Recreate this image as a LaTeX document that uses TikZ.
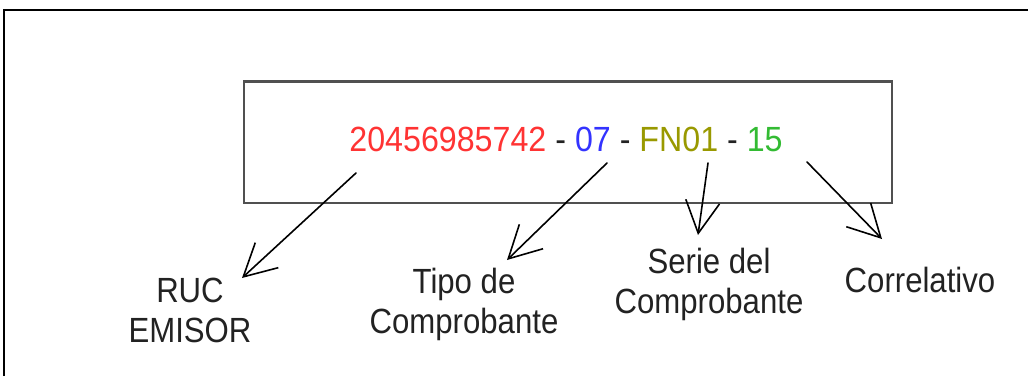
\documentclass[tikz,border=0pt]{standalone}
\usepackage{fontspec}
\setmainfont{Liberation Sans}
\newfontfamily\lblfont[FakeStretch=0.89]{Liberation Sans}
\newfontfamily\codefont[FakeStretch=0.92]{Liberation Sans}
\usetikzlibrary{arrows.meta}
\definecolor{rucred}{HTML}{FF3333}
\definecolor{tipoblue}{HTML}{3333FF}
\definecolor{serieolive}{HTML}{999900}
\definecolor{corrgreen}{HTML}{33BB33}
\definecolor{boxgray}{HTML}{505050}
\definecolor{txtdark}{HTML}{222222}
\tikzset{
  frameline/.style={line width=1.8pt, black},
  codebox/.style={draw=boxgray, line width=2.6pt},
  codetext/.style={font=\codefont\fontsize{35}{40}\selectfont, inner sep=0pt, anchor=base},
  lbl/.style={font=\lblfont\fontsize{35}{40}\selectfont, text=txtdark, inner sep=0pt, anchor=north, align=center},
  pointer/.style={line width=1.6pt, black, line cap=round, line join=round,
    -{Straight Barb[length=32pt,width=34pt,line width=1.6pt]}}
}
\begin{document}
\begin{tikzpicture}[x=1pt,y=-1pt]
\useasboundingbox (0,0) rectangle (1028,376);
% outer frame (partial)
\draw[frameline] (4,376) -- (4,10) -- (1028,10);
% main box
\node[codebox, minimum width=648pt, minimum height=121.5pt, inner sep=0pt] (box) at (568,142.25) {};
\node[codetext] (code) at (566,151.7) {\textcolor{rucred}{20456985742} \textcolor{txtdark}{-} \textcolor{tipoblue}{07} \textcolor{txtdark}{-} \textcolor{serieolive}{FN01} \textcolor{txtdark}{-} \textcolor{corrgreen}{15}};
% labels
\node[lbl] (ruc) at (190,278) {RUC\\EMISOR};
\node[lbl] (tipo) at (464,268) {Tipo de\\Comprobante};
\node[lbl] (serie) at (709,248) {Serie del\\Comprobante};
\node[lbl] (corr) at (920,266.5) {Correlativo};
% pointer coordinates
\coordinate (s1) at (356,173);
\coordinate (t1) at (242,278);
\coordinate (s2) at (607,163);
\coordinate (t2) at (507,260);
\coordinate (s3) at (708,163);
\coordinate (t3) at (698,235);
\coordinate (s4) at (807,162);
\coordinate (t4) at (882,239);
\draw[pointer] (s1) -- (t1);
\draw[pointer] (s2) -- (t2);
\draw[pointer] (s3) -- (t3);
\draw[pointer] (s4) -- (t4);
\end{tikzpicture}
\end{document}
